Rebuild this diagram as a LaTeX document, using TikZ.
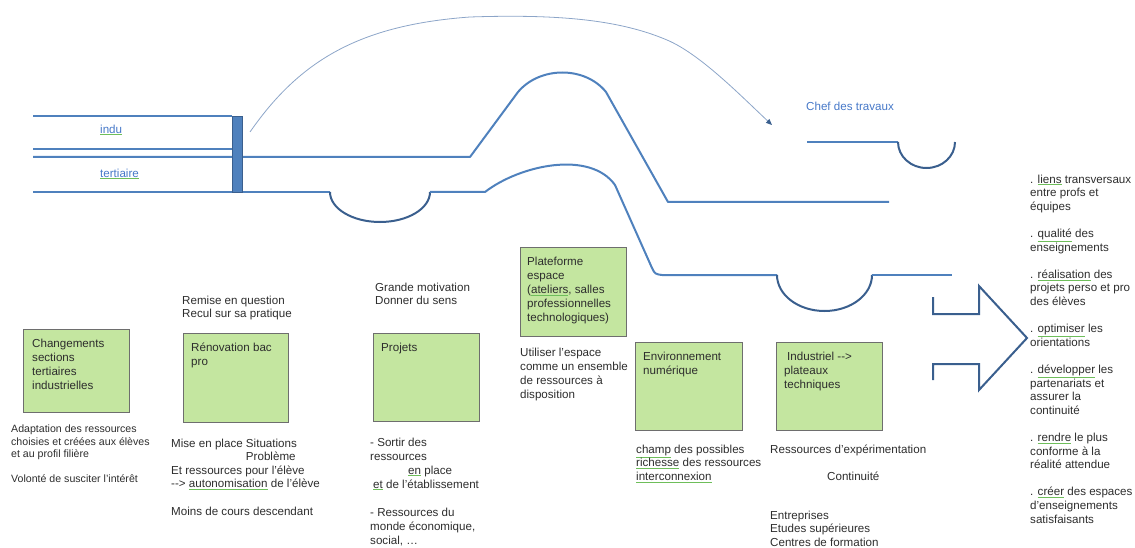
\documentclass[tikz,border=0pt]{standalone}
\usepackage{fontspec}
\setmainfont{Liberation Sans}
\usetikzlibrary {
  positioning,
  arrows.meta,
}
\definecolor{piste}{RGB}{79,129,189}
\definecolor{pistefonce}{RGB}{58,95,142}
\definecolor{vert}{RGB}{196,230,160}
\definecolor{bord}{RGB}{110,110,110}
\definecolor{texte}{RGB}{45,45,45}
\definecolor{bleu}{RGB}{70,120,200}
\definecolor{vague}{RGB}{110,190,90}
\definecolor{fleche}{RGB}{140,165,200}
\newcommand{\souligne}[2][texte]{{\color{vague}\underline{\textcolor{#1}{#2}}}}
\tikzset{
  piste/.style = {
    draw = piste,
    line width = 2pt,
    line join = round
  },
  creux/.style = {
    draw = pistefonce,
    line width = 2pt
  },
  barre/.style = {
    rectangle,
    draw = pistefonce,
    fill = piste,
    line width = .8pt,
    minimum width = 10pt,
    minimum height = 76pt,
    inner sep = 0pt
  },
  courbe/.style = {
    draw = fleche,
    line width = .8pt,
    -{Triangle[length = 6pt, width = 5pt, color = pistefonce]}
  },
  boite/.style = {
    rectangle,
    draw = bord,
    fill = vert,
    line width = .9pt,
    anchor = north west,
    minimum width = 106pt,
    minimum height = 88pt,
    inner sep = 0pt
  },
  dedans/.style = {
    anchor = north west,
    inner sep = 0pt,
    xshift = 8pt,
    yshift = -10pt,
    align = left,
    text = texte,
    font = \fontsize{11.6}{14}\selectfont
  },
  note/.style = {
    anchor = north west,
    inner sep = 0pt,
    align = left,
    text = texte,
    font = \fontsize{11.6}{13.6}\selectfont
  },
  lien/.style = {
    note,
    text = bleu
  }
}

\begin{document}
\begin{tikzpicture}[x = 1pt, y = -1pt]
  \useasboundingbox (0,0) rectangle (1135,548);

  % Voies de gauche.
  \draw[piste] (33,116) -- (232,116);
  \draw[piste] (33,149) -- (232,149);
  \node[lien] (indu) at (100,124.5) {\souligne[bleu]{indu}};
  \node[lien] (tertiaire) at (100,168.5) {\souligne[bleu]{tertiaire}};

  % Voie du milieu.
  \draw[piste] (33,157) -- (470,157) -- (518,92)
    .. controls (540,66) and (585,66) .. (606,92) -- (668,202) -- (889,202);

  % Voie du bas.
  \draw[piste] (33,192) -- (330,192);
  \draw[creux] (330,192) arc[start angle = 180, end angle = 360, x radius = 50pt, y radius = 30pt];
  \draw[piste] (430,192) -- (485,192) .. controls (520,165) and (590,150) .. (615,185)
    -- (652,268) .. controls (655,274) .. (662,275) -- (777,275);
  \draw[creux] (777,275) arc[start angle = 180, end angle = 360, x radius = 47.5pt, y radius = 36pt];
  \draw[piste] (872,275) -- (952,275);

  \node[barre] (barre) at (237,154) {};

  % Chef des travaux.
  \node[lien] (chef) at (806,101.5) {Chef des travaux};
  \draw[piste] (807,142) -- (898,142);
  \draw[creux] (898,142) arc[start angle = 180, end angle = 360, x radius = 28.5pt, y radius = 26pt];
  \coordinate (depart) at (250,132);
  \coordinate (arrivee) at (772,125);
  \draw[courbe] (depart) .. controls (300,60) and (360,25) .. (470,17)
    .. controls (560,14) and (620,20) .. (667,40)
    .. controls (700,54) and (740,95) .. (arrivee);

  % Grande fleche.
  \draw[creux, line join = miter] (933,297) -- (933,314) -- (979,314) -- (979,286)
    -- (1027,338) -- (979,390) -- (979,364) -- (933,364) -- (933,380);

  % Boites.
  \node[boite, minimum height = 83pt] (chgt) at (23,329)
    [label = {[dedans, xshift = 1pt]north west:{Changements\\sections\\tertiaires\\industrielles}}] {};
  \node[boite, minimum width = 105pt, minimum height = 89pt] (renov) at (183,333)
    [label = {[dedans]north west:{Rénovation bac\\pro}}] {};
  \node[boite] (projets) at (373,333) [label = {[dedans]north west:{Projets}}] {};
  \node[boite, minimum height = 89pt] (plateforme) at (520,247)
    [label = {[dedans, xshift = -1pt]north west:{Plateforme\\espace\\(\souligne{ateliers}, salles\\professionnelles\\technologiques)}}] {};
  \node[boite, minimum width = 107pt] (numerique) at (635,342)
    [label = {[dedans]north west:{Environnement\\numérique}}] {};
  \node[boite] (industriel) at (776,342)
    [label = {[dedans]north west:{\hspace*{3pt}Industriel -{}->\\plateaux\\techniques}}] {};

  % Textes.
  \node[note, font = \fontsize{10.6}{12.5}\selectfont] (adapt) [below right = 12pt and -12pt of chgt.south west]
    {Adaptation des ressources\\choisies et créées aux élèves\\et au profil filière\\[12.5pt]Volonté de susciter l'intérêt};
  \node[note] (remise) [above right = 12.5pt and -1pt of renov.north west]
    {Remise en question\\Recul sur sa pratique};
  \node[note] (mise) [below right = 15.5pt and -12pt of renov.south west]
    {Mise en place Situations\\\phantom{Mise en place }Problème\\Et ressources pour l'élève\\-{}-> \souligne{autonomisation} de l'élève\\[13.6pt]Moins de cours descendant};
  \node[note] (grande) [above right = 28pt and 2pt of projets.north west]
    {Grande motivation\\Donner du sens};
  \node[note, font = \fontsize{11.6}{14}\selectfont] (sortir) [below right = 15.5pt and -3pt of projets.south west]
    {- Sortir des\\ressources\\\hspace*{38pt}\souligne{en} place\\\hspace*{3pt}\souligne{et} de l'établissement\\[14pt]- Ressources du\\monde économique,\\social, \ldots};
  \node[note, font = \fontsize{11.6}{14}\selectfont] (utiliser) [below right = 10.5pt and 0pt of plateforme.south west]
    {Utiliser l'espace\\comme un ensemble\\de ressources à\\disposition};
  \node[note] (champ) [below right = 13.5pt and 1pt of numerique.south west]
    {\souligne{champ} des possibles\\\souligne{richesse} des ressources\\\souligne{interconnexion}};
  \node[note] (ressexp) [below right = 13.5pt and -6pt of industriel.south west]
    {Ressources d'expérimentation\\[13.6pt]\hspace*{57pt}Continuité};
  \node[note, font = \fontsize{11.6}{13.2}\selectfont] (entreprises) [below right = 30.5pt and 0pt of ressexp.south west]
    {Entreprises\\Etudes supérieures\\Centres de formation};

  % Bilan.
  \node[note] (bilan) at (1030,174.5)
    {. \souligne{liens} transversaux\\entre profs et\\équipes\\[13.6pt]%
     . \souligne{qualité} des\\enseignements\\[13.6pt]%
     . \souligne{réalisation} des\\projets perso et pro\\des élèves\\[13.6pt]%
     . \souligne{optimiser} les\\orientations\\[13.6pt]%
     . \souligne{développer} les\\partenariats et\\assurer la\\continuité\\[13.6pt]%
     . \souligne{rendre} le plus\\conforme à la\\réalité attendue\\[13.6pt]%
     . \souligne{créer} des espaces\\d'enseignements\\satisfaisants};
\end{tikzpicture}
\end{document}
